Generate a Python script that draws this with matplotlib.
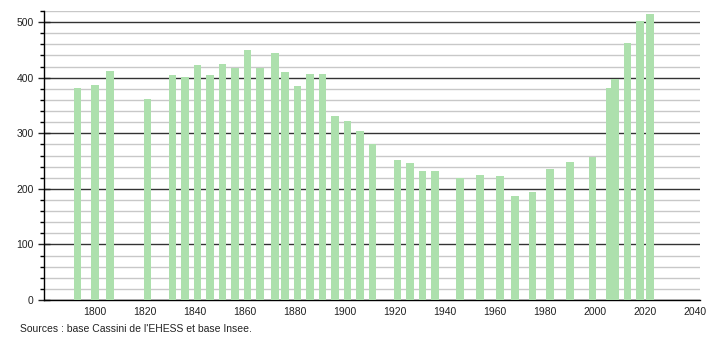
import matplotlib.pyplot as plt
from matplotlib.ticker import MultipleLocator

# années de recensement et population
annees = [1793, 1800, 1806, 1821, 1831, 1836, 1841, 1846, 1851, 1856,
          1861, 1866, 1872, 1876, 1881, 1886, 1891, 1896, 1901, 1906,
          1911, 1921, 1926, 1931, 1936, 1946, 1954, 1962, 1968, 1975,
          1982, 1990, 1999, 2006, 2008, 2013, 2018, 2022]
population = [381, 387, 412, 361, 405, 401, 423, 405, 424, 417,
              450, 417, 444, 410, 385, 406, 406, 331, 322, 304,
              281, 252, 247, 232, 232, 219, 225, 223, 187, 194,
              236, 248, 257, 382, 398, 463, 502, 515]
x_ticks = list(range(1800, 2041, 20))
source = "Sources : base Cassini de l'EHESS et base Insee."

plt.rcParams['font.family'] = ['Liberation Sans', 'DejaVu Sans']

fig = plt.figure(figsize=(7.1, 3.4), dpi=100)
ax = fig.add_axes([0.0613, 0.1176, 0.9247, 0.85])

ax.bar(annees, population, width=3.0, color='#ade0ad', zorder=3)

ax.set_xlim(1779.5, 2042)
ax.set_ylim(0, 520)
ax.set_xticks(x_ticks)
ax.yaxis.set_major_locator(MultipleLocator(100))
ax.yaxis.set_minor_locator(MultipleLocator(20))

# grille
ax.grid(axis='y', which='major', color='#333333', linewidth=1.0, zorder=1)
ax.grid(axis='y', which='minor', color='#c8c8c8', linewidth=1.0, zorder=0)
ax.set_axisbelow(True)

for s in ['top', 'right']:
    ax.spines[s].set_visible(False)
ax.spines['left'].set_linewidth(1.0)
ax.spines['bottom'].set_linewidth(1.0)

ax.tick_params(axis='x', length=0, labelsize=7.5, pad=5, colors='#222222')
ax.tick_params(axis='y', which='major', direction='inout', length=8, width=1, labelsize=7.5, pad=3, colors='#222222')
ax.tick_params(axis='y', which='minor', direction='out', length=3, width=1)

fig.text(20 / 710, 1 - 329 / 340, source, fontsize=7.5, va='center', ha='left', color='#222222')

fig.savefig('out.png', dpi=100)
